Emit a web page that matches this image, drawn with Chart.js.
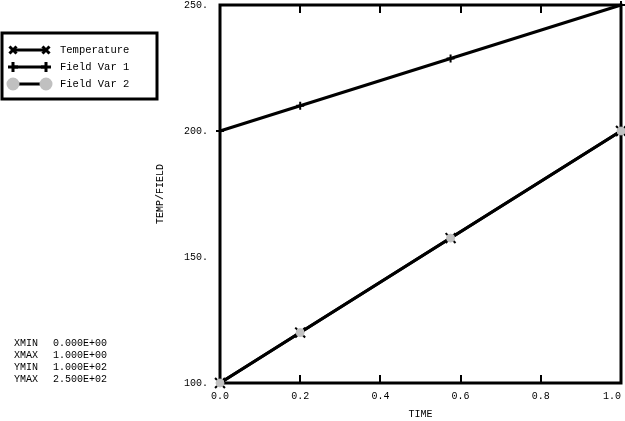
<!DOCTYPE html>
<html>
<head>
<meta charset="utf-8">
<script src="https://cdn.jsdelivr.net/npm/chart.js@4/dist/chart.umd.min.js"></script>
<style>
	html, body { margin: 0; padding: 0; background: #fff; }
	#wrap { width: 625px; height: 421px; }
</style>
</head>
<body>
<div id="wrap"><canvas id="c" width="625" height="421"></canvas></div>
<script>
// values
const timeValues = [0.0, 0.2, 0.575, 1.0];
const temperature = [100, 120, 157.5, 200];
const fieldVar1 = [200, 210, 228.75, 250];
const fieldVar2 = [100, 120, 157.5, 200];
const seriesNames = ['Temperature', 'Field Var 1', 'Field Var 2'];
const xTicks = [0.0, 0.2, 0.4, 0.6, 0.8, 1.0];
const yTicks = [100, 150, 200, 250];
const rangeLines = [
	['XMIN', '0.000E+00'],
	['XMAX', '1.000E+00'],
	['YMIN', '1.000E+02'],
	['YMAX', '2.500E+02']
];

const FONT = 'Liberation Mono';
const GREY = '#c0c0c0';

function points(ys){
	return timeValues.map((x, i) => ({x: x, y: ys[i]}));
}

// frame, inward x ticks, legend box and the range block
const decorations = {
	id: 'decorations',
	beforeDatasetsDraw(chart){
		const ctx = chart.ctx;
		const a = chart.chartArea;
		const xs = chart.scales.x;
		ctx.save();
		ctx.strokeStyle = '#000';
		ctx.lineWidth = 3;
		ctx.strokeRect(a.left, a.top, a.right - a.left, a.bottom - a.top);
		ctx.lineWidth = 2;
		xTicks.slice(1, -1).forEach((v)=>{
			const px = Math.round(xs.getPixelForValue(v));
			ctx.beginPath();
			ctx.moveTo(px, a.bottom);
			ctx.lineTo(px, a.bottom - 8);
			ctx.moveTo(px, a.top);
			ctx.lineTo(px, a.top + 8);
			ctx.stroke();
		});
		ctx.restore();
	},
	afterDraw(chart){
		const ctx = chart.ctx;
		ctx.save();
		// legend
		ctx.lineWidth = 3;
		ctx.strokeStyle = '#000';
		ctx.strokeRect(2, 33, 155, 66);
		ctx.font = '10.5px "' + FONT + '"';
		ctx.textBaseline = 'middle';
		chart.data.datasets.forEach((ds, i)=>{
			const y = 50 + i * 17;
			ctx.lineWidth = 3;
			ctx.strokeStyle = '#000';
			ctx.beginPath();
			ctx.moveTo(13, y);
			ctx.lineTo(46, y);
			ctx.stroke();
			const opts = {
				pointStyle: ds.pointStyle,
				radius: 5,
				borderWidth: 3,
				rotation: 0
			};
			ctx.fillStyle = ds.pointBackgroundColor;
			ctx.strokeStyle = ds.pointBorderColor;
			Chart.helpers.drawPoint(ctx, opts, 13, y);
			Chart.helpers.drawPoint(ctx, opts, 46, y);
			ctx.fillStyle = '#000';
			ctx.fillText(ds.label, 60, y);
		});

		// range block
		ctx.font = '10px "' + FONT + '"';
		rangeLines.forEach((row, i)=>{
			const y = 343 + i * 12;
			ctx.fillText(row[0], 14, y);
			ctx.fillText(row[1], 53, y);
		});
		ctx.restore();
	}
};

new Chart(document.getElementById('c'), {
	type: 'line',
	data: {
		datasets: [
			{
				label: seriesNames[0],
				data: points(temperature),
				borderColor: '#000',
				borderWidth: 3,
				pointStyle: 'crossRot',
				pointRadius: 7,
				pointBorderWidth: 2,
				pointBorderColor: '#000',
				pointBackgroundColor: '#000',
				clip: false,
				order: 2
			},
			{
				label: seriesNames[1],
				data: points(fieldVar1),
				borderColor: '#000',
				borderWidth: 3,
				pointStyle: 'cross',
				pointRadius: 4,
				pointBorderWidth: 2,
				pointBorderColor: '#000',
				pointBackgroundColor: '#000',
				clip: false,
				order: 1
			},
			{
				label: seriesNames[2],
				data: points(fieldVar2),
				borderColor: '#000',
				borderWidth: 3,
				pointStyle: 'circle',
				pointRadius: 4,
				pointBorderWidth: 1,
				pointBorderColor: GREY,
				pointBackgroundColor: GREY,
				clip: false,
				order: 0
			}
		]
	},
	options: {
		responsive: false,
		animation: false,
		layout: { autoPadding: false, padding: { left: 0, top: 5, right: 4, bottom: 0 } },
		plugins: {
			legend: { display: false },
			tooltip: { enabled: false }
		},
		scales: {
			x: {
				type: 'linear',
				min: 0,
				max: 1,
				grid: { display: false, drawTicks: false },
				border: { display: false },
				afterBuildTicks(scale){
					scale.ticks = xTicks.map((v) => ({value: v}));
				},
				afterFit(scale){
					scale.height = 38;
					scale.paddingLeft = 0;
					scale.paddingRight = 0;
				},
				ticks: {
					color: '#000',
					padding: 7,
					maxRotation: 0,
					font: { family: FONT, size: 10 },
					callback: (v) => v === 1 ? '1.0   ' : v.toFixed(1)
				},
				title: {
					display: true,
					text: 'TIME',
					color: '#000',
					font: { family: FONT, size: 10 },
					padding: { top: 0, bottom: 1 }
				}
			},
			y: {
				type: 'linear',
				min: 100,
				max: 250,
				grid: { display: false, drawTicks: false },
				border: { display: false },
				afterBuildTicks(scale){
					scale.ticks = yTicks.map((v) => ({value: v}));
				},
				afterFit(scale){
					scale.width = 220;
					scale.paddingTop = 0;
					scale.paddingBottom = 0;
				},
				ticks: {
					color: '#000',
					padding: 12,
					font: { family: FONT, size: 10 },
					callback: (v) => v + '.'
				},
				title: {
					display: true,
					text: 'TEMP/FIELD',
					color: '#000',
					font: { family: FONT, size: 10 },
					padding: { top: 154, bottom: 0 }
				}
			}
		}
	},
	plugins: [decorations]
});
</script>
</body>
</html>
